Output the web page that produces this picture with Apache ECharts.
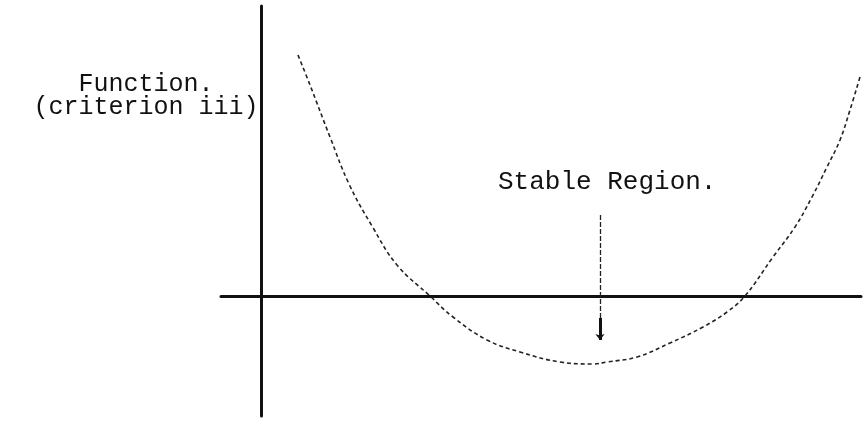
<!DOCTYPE html>
<html>
<head>
<meta charset="utf-8">
<script src="https://cdn.jsdelivr.net/npm/echarts@6/dist/echarts.min.js"></script>
<style>
  html, body { margin: 0; padding: 0; background: #fff; }
  #chart { width: 863px; height: 428px; }
</style>
</head>
<body>
<div id="chart"></div>
<script>
// curve (x along horizontal axis, y = function value)
const curveX = [3.7, 4.9, 6.9, 8.8, 11.1, 13.6, 16.9, 19.2, 22.6, 25.9, 29.9, 33.2,
  34.6, 37.6, 40.9, 44.2, 46.6, 48.4, 51.2, 53.4, 55.1, 56.6, 57.9, 58.9, 59.9];
const curveY = [24.1, 21.1, 15.9, 11.2, 7.0, 3.1, 0, -2.1, -4.4, -5.6, -6.6, -6.8,
  -6.6, -6.1, -4.7, -3.1, -1.6, 0, 3.9, 6.9, 9.9, 12.9, 15.6, 18.6, 21.9];

// arrow pointing at the stable region
const arrowX = 33.9;
const arrowTop = 8.1;
const arrowMid = -2.2;
const arrowTip = -4.4;

const yLabel = ['Function.', '(criterion iii)'];
const regionLabel = 'Stable Region.';

const font = '"Courier New", "Liberation Mono", monospace';
const ink = '#111';

const chart = echarts.init(document.getElementById('chart'));

const option = {
  animation: false,
  backgroundColor: '#fff',
  grid: { left: 221, right: 2, top: 6, bottom: 12 },
  xAxis: {
    type: 'value',
    min: -4,
    max: 60,
    axisLine: { onZero: true, lineStyle: { color: ink, width: 3 } },
    axisTick: { show: false },
    axisLabel: { show: false },
    splitLine: { show: false }
  },
  yAxis: {
    type: 'value',
    min: -12,
    max: 29,
    axisLine: { show: true, onZero: true, lineStyle: { color: ink, width: 3 } },
    axisTick: { show: false },
    axisLabel: { show: false },
    splitLine: { show: false }
  },
  series: [
    {
      type: 'line',
      data: curveX.map((x, i) => [x, curveY[i]]),
      smooth: 0.4,
      showSymbol: false,
      lineStyle: { color: '#222', width: 1.6, type: [4, 3] },
      markLine: {
        silent: true,
        symbol: ['none', 'none'],
        label: { show: false },
        lineStyle: { color: '#222', width: 1.3, type: [5, 2] },
        data: [
          [{ coord: [arrowX, arrowTop] }, { coord: [arrowX, arrowMid] }]
        ]
      }
    },
    {
      type: 'line',
      data: [],
      markLine: {
        silent: true,
        symbol: ['none', 'arrow'],
        symbolSize: [7, 6],
        label: { show: false },
        lineStyle: { color: ink, width: 3, type: 'solid' },
        data: [
          [{ coord: [arrowX, arrowMid] }, { coord: [arrowX, arrowTip] }]
        ]
      }
    }
  ],
  graphic: [
    {
      type: 'text',
      x: 146,
      y: 73,
      style: {
        text: yLabel.join('\n'),
        font: '25px ' + font,
        fill: ink,
        align: 'center',
        lineHeight: 23
      }
    },
    {
      type: 'text',
      x: 498,
      y: 169,
      style: {
        text: regionLabel,
        font: '26px ' + font,
        fill: ink
      }
    }
  ]
};

chart.setOption(option);
</script>
</body>
</html>
